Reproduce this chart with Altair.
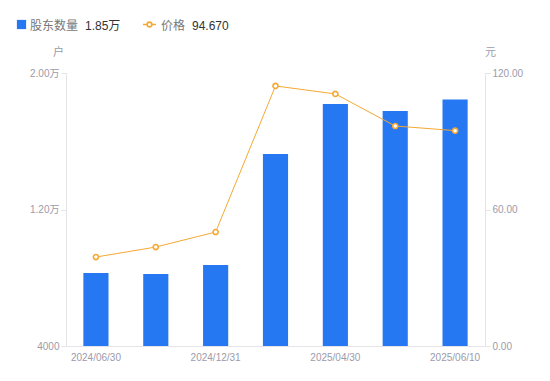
import altair as alt
import pandas as pd

dates = ["2024/06/30", "2024/09/30", "2024/12/31", "2025/03/31", "2025/04/30", "2025/05/31", "2025/06/10"]
holders = [8280, 8220, 8750, 15250, 18180, 17770, 18450]
prices = [39.1, 43.5, 50.1, 114.3, 110.8, 96.7, 94.67]
shown_dates = ["2024/06/30", "2024/12/31", "2025/04/30", "2025/06/10"]

df = pd.DataFrame({"date": dates, "holders": holders, "price": prices})

FONT = "Liberation Sans, Noto Sans CJK SC, sans-serif"
GRAY = "#9b9bab"
LINE = "#e3e3e8"
BLUE = "#2577f2"
ORANGE = "#f5a832"

x = alt.X("date:N", sort=dates, title=None,
          scale=alt.Scale(paddingInner=0.58, paddingOuter=0.29),
          axis=alt.Axis(values=shown_dates, labelAngle=0, ticks=False, domainColor=LINE,
                        labelColor=GRAY, labelFontSize=10, labelFont=FONT, labelPadding=6))

bars = alt.Chart(df).mark_bar(color=BLUE, clip=True).encode(
    x=x,
    y=alt.Y("holders:Q", title="户",
            scale=alt.Scale(domain=[4000, 20000], nice=False, zero=False),
            axis=alt.Axis(values=[4000, 12000, 20000], grid=False, domainColor=LINE, tickColor=LINE,
                          tickSize=5, labelColor=GRAY, labelFontSize=10, labelFont=FONT,
                          labelExpr="datum.value >= 10000 ? format(datum.value/10000, '.2f') + '万' : format(datum.value, 'd')",
                          titleAngle=0, titleX=-8, titleY=-16, titleColor=GRAY, titleFontWeight="normal",
                          titleFontSize=11, titleFont=FONT, titleAlign="center")),
)

line = alt.Chart(df).mark_line(color=ORANGE, strokeWidth=1).encode(
    x=alt.X("date:N", sort=dates),
    y=alt.Y("price:Q", title="元",
            scale=alt.Scale(domain=[0, 120], nice=False),
            axis=alt.Axis(values=[0, 60, 120], format=".2f", orient="right", grid=False,
                          domainColor=LINE, tickColor=LINE, tickSize=5, labelColor=GRAY,
                          labelFontSize=10, labelFont=FONT,
                          titleAngle=0, titleX=5, titleY=-16, titleColor=GRAY, titleFontWeight="normal",
                          titleFontSize=11, titleFont=FONT, titleAlign="center")),
)
points = alt.Chart(df).mark_point(shape="circle", filled=True, fill="white", stroke=ORANGE,
                                  strokeWidth=1.6, size=26, opacity=1).encode(
    x=alt.X("date:N", sort=dates),
    y=alt.Y("price:Q", scale=alt.Scale(domain=[0, 120], nice=False)),
)

legend_src = alt.Chart(pd.DataFrame({"a": [0]}))
LY = -48.5
leg_sq = legend_src.mark_square(color=BLUE, size=85, opacity=1).encode(
    x=alt.value(-44.5), y=alt.value(LY))
leg_t1 = legend_src.mark_text(text="股东数量", align="left", baseline="middle", fontSize=12,
                              color="#777777", font=FONT).encode(x=alt.value(-36), y=alt.value(LY + 1))
leg_v1 = legend_src.mark_text(text="1.85万", align="left", baseline="middle", fontSize=12,
                              color="#333333", font=FONT).encode(x=alt.value(19), y=alt.value(LY + 1))
leg_ln = legend_src.mark_rule(color=ORANGE, strokeWidth=1.5).encode(
    x=alt.value(77), x2=alt.value(90), y=alt.value(LY))
leg_pt = legend_src.mark_point(shape="circle", filled=True, fill="white", stroke=ORANGE,
                               strokeWidth=1.6, size=22, opacity=1).encode(
    x=alt.value(83.5), y=alt.value(LY))
leg_t2 = legend_src.mark_text(text="价格", align="left", baseline="middle", fontSize=12,
                              color="#777777", font=FONT).encode(x=alt.value(95), y=alt.value(LY + 1))
leg_v2 = legend_src.mark_text(text="94.670", align="left", baseline="middle", fontSize=12,
                              color="#333333", font=FONT).encode(x=alt.value(126), y=alt.value(LY + 1))

main = alt.layer(bars, line + points).resolve_scale(y="independent")
legend = alt.layer(leg_sq, leg_t1, leg_v1, leg_ln, leg_pt, leg_t2, leg_v2)

chart = alt.layer(main, legend).properties(
    width=419, height=273,
    autosize=alt.AutoSizeParams(type="none"),
    padding={"left": 58, "top": 65, "right": 57, "bottom": 27},
).configure_view(stroke=None)

chart.save("out.html", embed_options={"renderer": "svg", "actions": False})
